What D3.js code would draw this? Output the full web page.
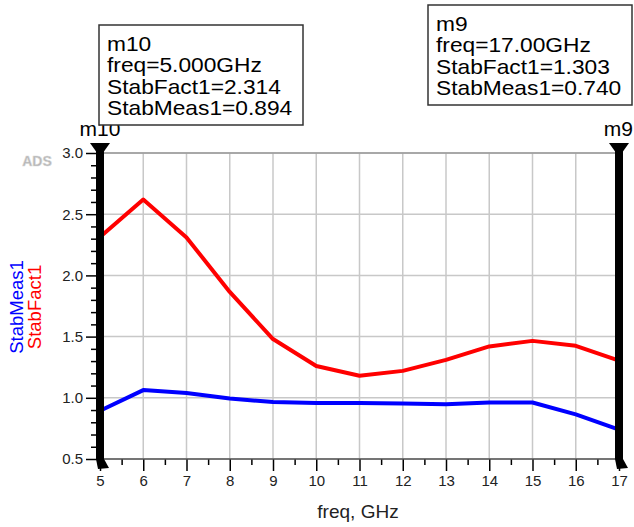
<!DOCTYPE html>
<html>
<head>
<meta charset="utf-8">
<script src="https://cdn.jsdelivr.net/npm/d3@7"></script>
<style>
  body { margin: 0; background: #fff; }
  text { font-family: "Liberation Sans", Arial, sans-serif; }
</style>
</head>
<body>
<div id="chart"></div>
<script>
var freq = [5, 6, 7, 8, 9, 10, 11, 12, 13, 14, 15, 16, 17];
var stabFact1 = [2.314, 2.62, 2.31, 1.865, 1.48, 1.26, 1.18, 1.22, 1.31, 1.42, 1.465, 1.425, 1.303];
var stabMeas1 = [0.894, 1.063, 1.04, 0.995, 0.965, 0.958, 0.957, 0.953, 0.948, 0.962, 0.962, 0.865, 0.740];
var xTicks = [5, 6, 7, 8, 9, 10, 11, 12, 13, 14, 15, 16, 17];
var yTicks = [0.5, 1.0, 1.5, 2.0, 2.5, 3.0];
var markers = [
  {name: 'm10', freq: 5, lines: ['m10', 'freq=5.000GHz', 'StabFact1=2.314', 'StabMeas1=0.894']},
  {name: 'm9', freq: 17, lines: ['m9', 'freq=17.00GHz', 'StabFact1=1.303', 'StabMeas1=0.740']}
];

var chartWidth = 634, chartHeight = 527;
var svg = d3.select('#chart').append('svg')
      .attr('width', chartWidth)
      .attr('height', chartHeight),
    margin = {top: 153, right: 15, bottom: 68, left: 100},
    width = 519,
    height = 306;

var x = d3.scaleLinear().domain([5, 17]).range([0, width]);
var y = d3.scaleLinear().domain([0.5, 3.0]).range([height, 0]);

var g = svg.append('g')
    .attr('transform', 'translate(' + margin.left + ',' + margin.top + ')');

// grid
g.selectAll('.vgrid')
  .data(xTicks)
  .enter().append('line')
    .attr('x1', function(d){return x(d)})
    .attr('x2', function(d){return x(d)})
    .attr('y1', 0).attr('y2', height)
    .attr('stroke', '#c8c8c8').attr('stroke-width', 1.5);

g.selectAll('.hgrid')
  .data(yTicks)
  .enter().append('line')
    .attr('x1', 0).attr('x2', width)
    .attr('y1', function(d){return y(d)})
    .attr('y2', function(d){return y(d)})
    .attr('stroke', '#c8c8c8').attr('stroke-width', 1.5);

g.append('line')
    .attr('x1', 0).attr('x2', width)
    .attr('y1', 0).attr('y2', 0)
    .attr('stroke', '#999').attr('stroke-width', 1.5);

// axes
var xAxis = g.append('g')
    .attr('transform', 'translate(0,' + height + ')')
    .call(d3.axisBottom(x).tickValues(xTicks).tickFormat(d3.format('d')).tickSize(12).tickPadding(4));

g.append('g')
    .attr('transform', 'translate(0,' + height + ')')
    .call(d3.axisBottom(x).tickValues(d3.range(5.5, 17, 1)).tickFormat('').tickSize(6));

var yAxis = g.append('g')
    .call(d3.axisLeft(y).tickValues(yTicks).tickFormat(d3.format('.1f')).tickSize(14).tickPadding(3));

g.append('g')
    .attr('transform', 'translate(-3,0)')
    .call(d3.axisLeft(y).tickValues(d3.range(0.6, 3.0, 0.1).filter(function(d){return Math.abs(d * 2 - Math.round(d * 2)) > 0.01})).tickFormat('').tickSize(6));

svg.selectAll('.domain').remove();
g.append('line')
    .attr('x1', 0).attr('x2', width)
    .attr('y1', height).attr('y2', height)
    .attr('stroke', '#555').attr('stroke-width', 1.5);

svg.selectAll('.tick line').attr('stroke', '#000').attr('stroke-width', 1.5);
xAxis.selectAll('text').attr('font-size', '15px').attr('fill', '#222').attr('font-family', 'Liberation Sans, Arial');
yAxis.selectAll('text').attr('font-size', '15px').attr('fill', '#222').attr('font-family', 'Liberation Sans, Arial');

// series
var line = d3.line()
    .x(function(d, i){return x(freq[i])})
    .y(function(d){return y(d)});

g.append('path')
    .datum(stabFact1)
    .attr('d', line)
    .attr('fill', 'none')
    .attr('stroke', '#ff0000')
    .attr('stroke-width', 4)
    .attr('stroke-linejoin', 'round');

g.append('path')
    .datum(stabMeas1)
    .attr('d', line)
    .attr('fill', 'none')
    .attr('stroke', '#0000ff')
    .attr('stroke-width', 4)
    .attr('stroke-linejoin', 'round');

// markers
var mk = g.selectAll('.marker')
  .data(markers)
  .enter().append('g')
    .attr('transform', function(d){return 'translate(' + x(d.freq) + ',0)'});

mk.append('rect')
    .attr('x', -4).attr('y', -2)
    .attr('width', 8).attr('height', height + 2)
    .attr('fill', '#000');

mk.append('path')
    .attr('d', 'M-10,-10 L10,-10 L0,4 Z')
    .attr('fill', '#000');

mk.append('path')
    .attr('d', 'M-4,' + height + ' L4,' + height + ' L9,' + (height + 9) + ' L-2,' + (height + 10) + ' Z')
    .attr('fill', '#000');

mk.append('text')
    .attr('y', -17)
    .attr('text-anchor', function(d){return d.name == 'm9' ? 'end' : 'middle'})
    .attr('x', function(d){return d.name == 'm9' ? 14 : 0})
    .attr('font-size', '21px')
    .attr('fill', '#000')
    .text(function(d){return d.name});

// readout boxes
var boxPos = [{x: 99, y: 25}, {x: 428, y: 5}];
var boxes = svg.selectAll('.readout')
  .data(markers)
  .enter().append('g')
    .attr('transform', function(d, i){return 'translate(' + boxPos[i].x + ',' + boxPos[i].y + ')'});

boxes.append('rect')
    .attr('width', 204).attr('height', 100)
    .attr('fill', '#fff')
    .attr('stroke', '#333')
    .attr('stroke-width', 1.5);

boxes.append('g')
    .attr('transform', 'translate(8,0) scale(1.11,1)')
  .selectAll('text')
  .data(function(d){return d.lines})
  .enter().append('text')
    .attr('x', 0)
    .attr('y', function(d, i){return 26 + i * 21.5})
    .attr('font-size', '20.5px')
    .attr('fill', '#000')
    .text(function(d){return d});

// labels
svg.append('text')
    .attr('x', 37).attr('y', 166)
    .attr('text-anchor', 'middle')
    .attr('font-size', '14px')
    .attr('font-weight', 'bold')
    .attr('fill', '#b4b4b4')
    .attr('stroke', '#d8d8d8')
    .attr('stroke-width', 0.6)
    .text('ADS');

svg.append('text')
    .attr('transform', 'translate(23,307) rotate(-90)')
    .attr('text-anchor', 'middle')
    .attr('font-size', '18.5px')
    .attr('fill', '#0000ff')
    .text('StabMeas1');

svg.append('text')
    .attr('transform', 'translate(41,307) rotate(-90)')
    .attr('text-anchor', 'middle')
    .attr('font-size', '18.5px')
    .attr('fill', '#ff0000')
    .text('StabFact1');

svg.append('text')
    .attr('x', 358).attr('y', 518)
    .attr('text-anchor', 'middle')
    .attr('font-size', '19px')
    .attr('fill', '#222')
    .text('freq, GHz');
</script>
</body>
</html>
